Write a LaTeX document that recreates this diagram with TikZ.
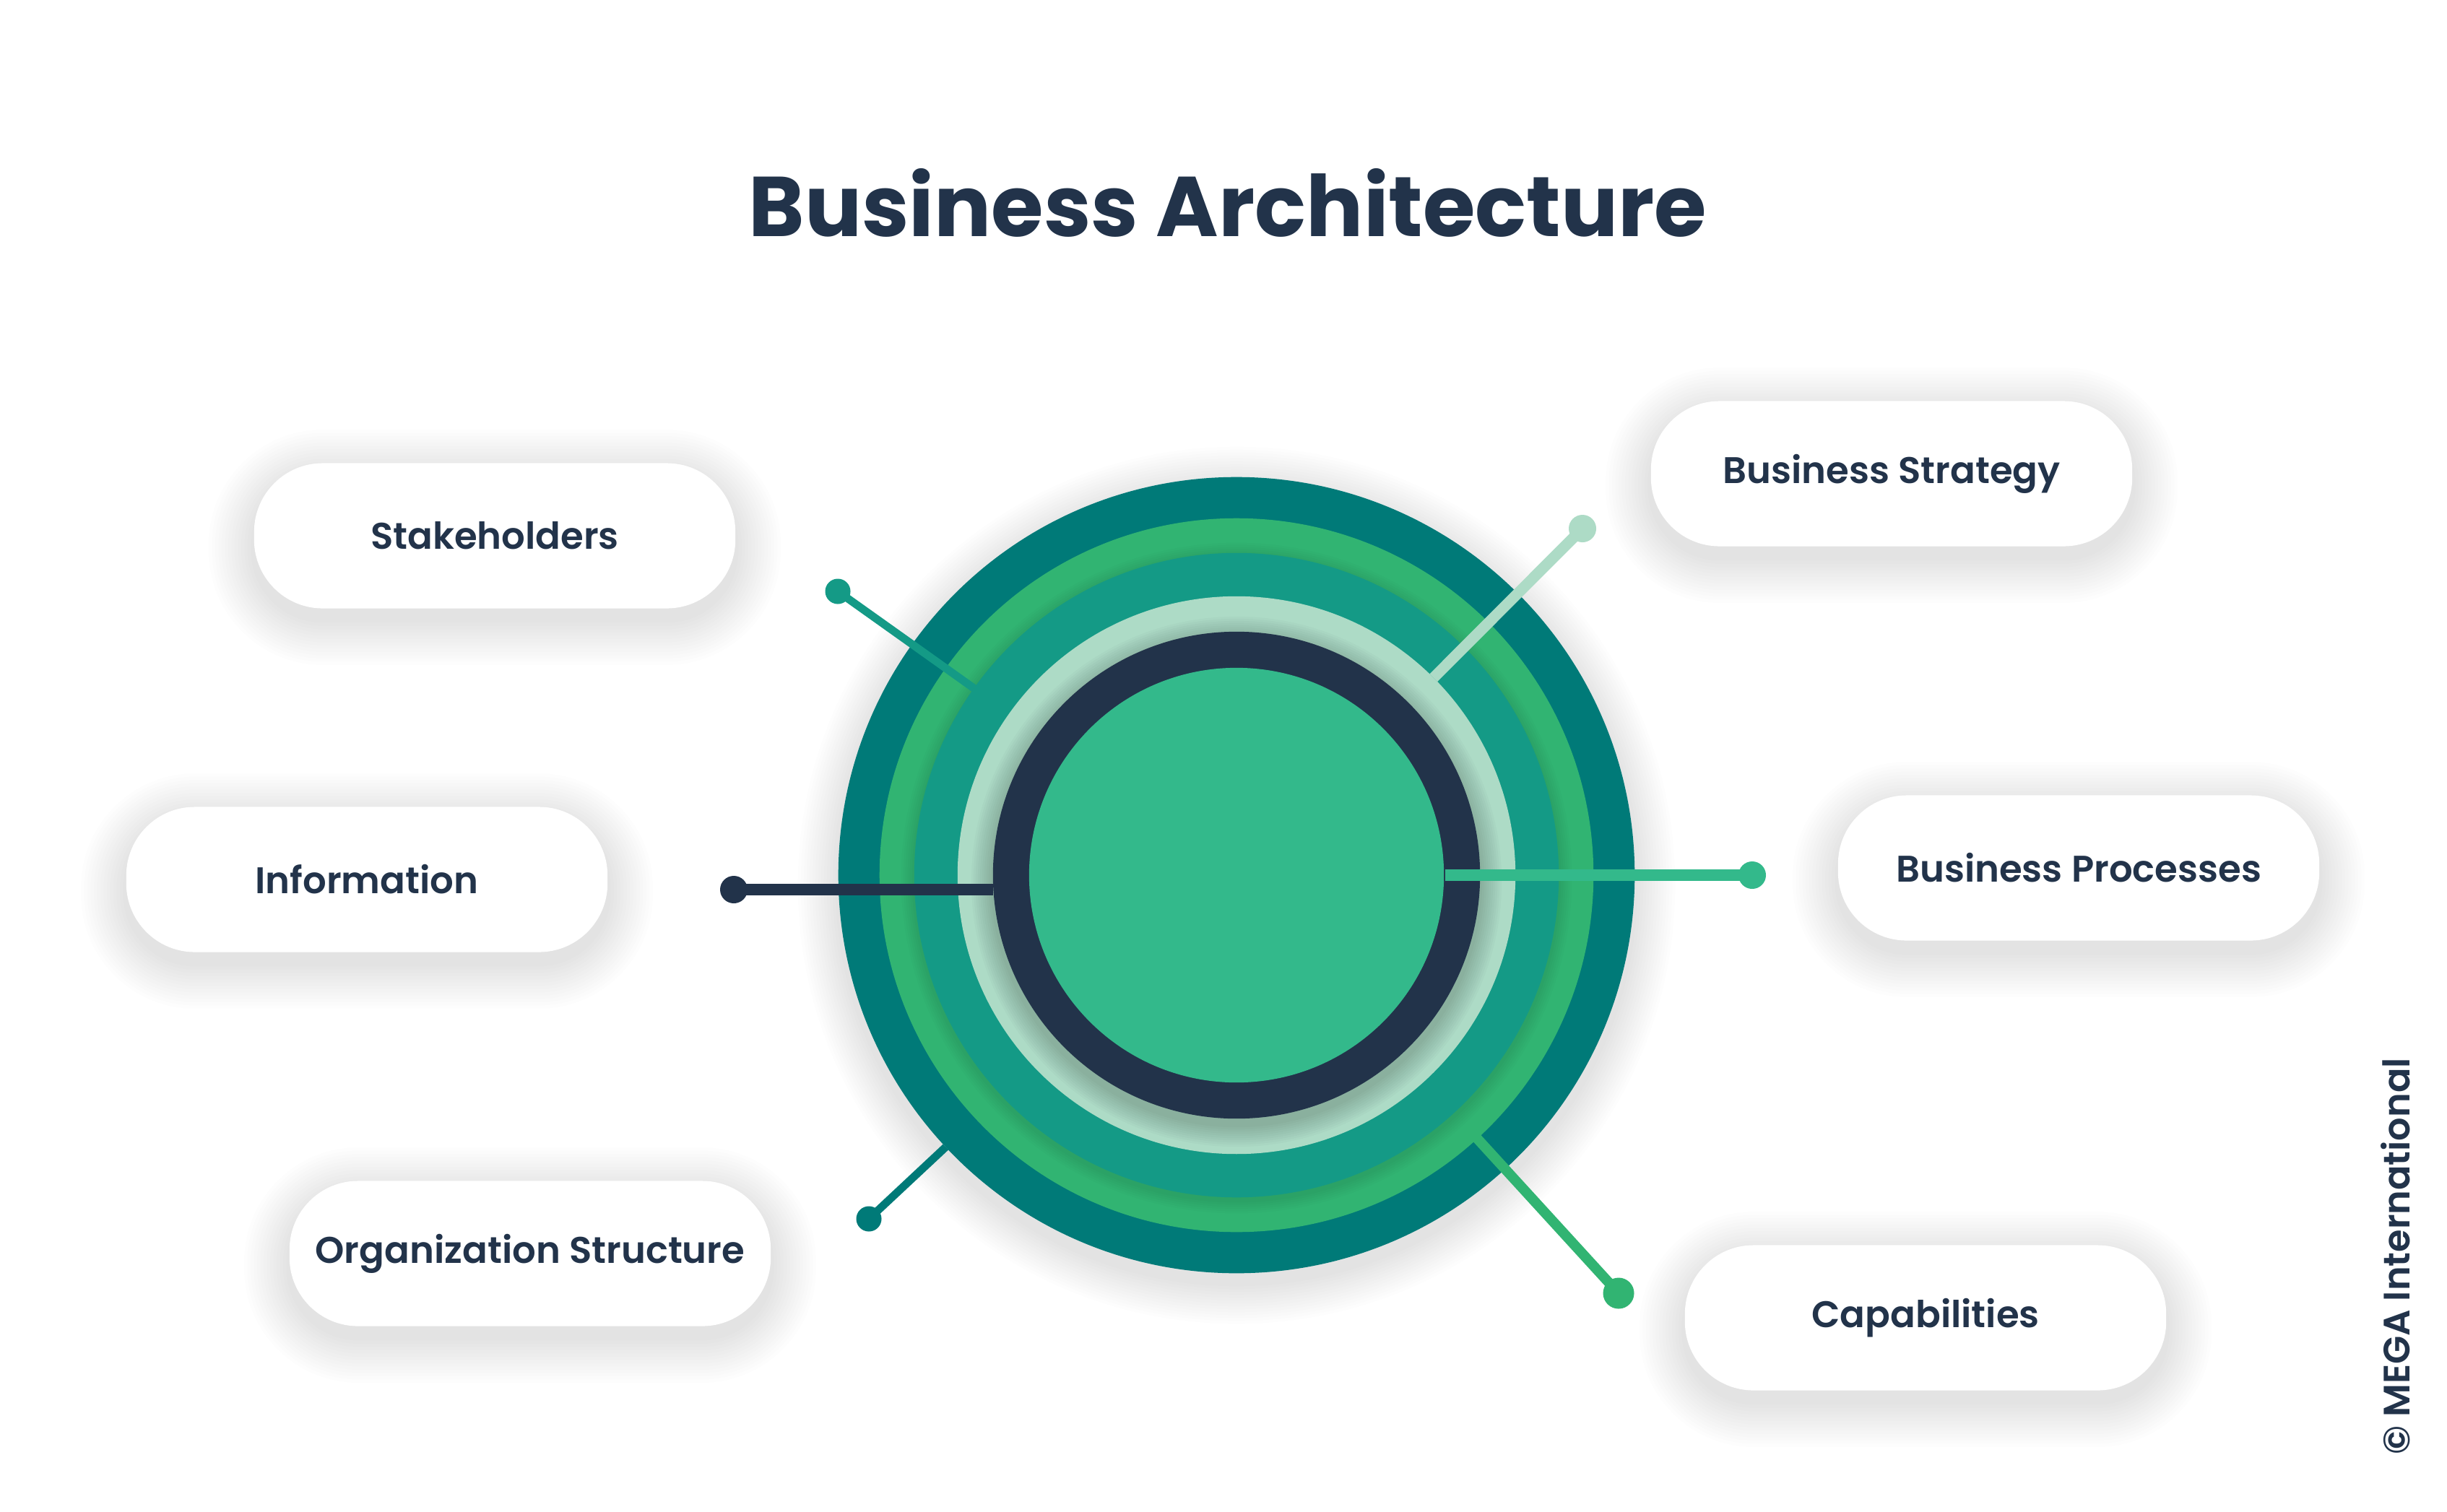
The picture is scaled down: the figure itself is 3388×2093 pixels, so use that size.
\documentclass[tikz,border=0pt]{standalone}
\usepackage{fontspec}
\setmainfont{Poppins}
\newfontfamily\labelfont{Poppins}[UprightFont={* SemiBold}]
\usetikzlibrary{
  calc
}
\usepackage{xcolor}
\definecolor{ringTeal}{rgb}{0,0.478,0.471}
\definecolor{ringGreen}{rgb}{0.192,0.706,0.447}
\definecolor{midTeal}{rgb}{0.078,0.604,0.525}
\definecolor{paleMint}{rgb}{0.678,0.859,0.776}
\definecolor{inkNavy}{rgb}{0.133,0.2,0.290}
\definecolor{coreGreen}{rgb}{0.2,0.725,0.545}
\tikzset{
  pill/.style={
    fill=white,
    minimum width=6.66cm,
    minimum height=2.01cm,
    rounded corners=0.95cm,
    text=inkNavy,
    font=\labelfont\fontsize{14.6}{18}\selectfont
  },
  haze/.style={
    fill=black,
    opacity=#1
  }
}

\begin{document}
\begin{tikzpicture}[
      x=0.01cm, y=-0.01cm,
      dot/.style={
        circle,
        fill=#1,
        inner sep=0pt,
        minimum size=0.38cm
      },
      spoke/.style={
        line width=#1
      }
      ]
      \useasboundingbox (0,0) rectangle (3388,2093);
      \fill[white] (0,0) rectangle (3388,2093);

      \node[anchor=base, text=inkNavy, font=\bfseries\fontsize{33.4}{40}\selectfont]
      (title) at (1700,327) {Business Architecture};

      % boxes with soft shadows
      \foreach \n/\x/\y/\t in {stake/685/742/Stakeholders, info/508/1218/Information,
        org/734/1736/Organization Structure, strat/2619/656/Business Strategy,
        proc/2878/1202/Business Processes, capa/2666/1825/Capabilities}{
        \foreach \k in {1,...,14}{
          \pgfmathsetmacro\rr{0.95+0.045*\k}
          \fill[haze=0.0075, rounded corners=\rr cm]
          (\x-333-4.5*\k, \y-100-4.5*\k+16) rectangle (\x+333+4.5*\k, \y+100+4.5*\k+16);
        }
        \node[pill] (\n Box) at (\x,\y) {\t};
      }

      % rings
      \coordinate (core) at (1712,1212);
      \foreach \k in {1,...,14}{
        \pgfmathsetmacro\rr{5.51+0.04*\k}
        \fill[haze=0.009] ($(core)+(0,14)$) circle (\rr cm);
      }
      \fill[ringTeal] (core) circle (5.51cm);
      \fill[ringGreen] (core) circle (4.94cm);
      \foreach \k in {1,...,6}{
        \pgfmathsetmacro\rr{4.46+0.03*\k}
        \fill[haze=0.015] ($(core)+(0,4)$) circle (\rr cm);
      }
      \fill[midTeal] (core) circle (4.46cm);

      \node[dot=midTeal, minimum size=0.35cm] (stakeDot) at (1160,819) {};
      \node[dot=paleMint] (stratDot) at (2191,732) {};
      \node[dot=ringTeal, minimum size=0.35cm] (orgDot) at (1203,1688) {};
      \node[dot=ringGreen, minimum size=0.43cm] (capaDot) at (2241,1791) {};
      \node[dot=inkNavy] (infoDot) at (1016,1232) {};
      \node[dot=coreGreen] (procDot) at (2426,1212) {};

      \coordinate (stakeIn) at ($(core)!4.46cm!(stakeDot.center)$);
      \coordinate (stratIn) at ($(core)!3.86cm!(stratDot.center)$);
      \coordinate (orgIn) at ($(core)!5.51cm!(orgDot.center)$);
      \coordinate (capaIn) at ($(core)!4.80cm!(capaDot.center)$);
      \coordinate (infoIn) at (1375,1232);
      \coordinate (procIn) at (2001,1212);

      \draw[midTeal, spoke=3.1pt] (stakeIn) -- (stakeDot.center);
      \draw[ringTeal, spoke=3.1pt] (orgIn) -- (orgDot.center);
      \draw[ringGreen, spoke=4pt] (capaIn) -- (capaDot.center);
      \draw[paleMint, spoke=4.3pt] (stratIn) -- (stratDot.center);

      \fill[paleMint] (core) circle (3.86cm);
      \foreach \k in {1,...,10}{
        \pgfmathsetmacro\rr{3.37+0.03*\k}
        \fill[haze=0.02] ($(core)+(0,9)$) circle (\rr cm);
      }
      \draw[inkNavy, spoke=4.6pt] (infoIn) -- (infoDot.center);
      \fill[inkNavy] (core) circle (3.37cm);
      \fill[coreGreen] (core) circle (2.87cm);
      \draw[coreGreen, spoke=4.3pt] (procIn) -- (procDot.center);

      \node[rotate=90, text=inkNavy, font=\labelfont\fontsize{14.5}{16}\selectfont]
      (credit) at (3317,1740) {© MEGA International};
    \end{tikzpicture}
\end{document}
